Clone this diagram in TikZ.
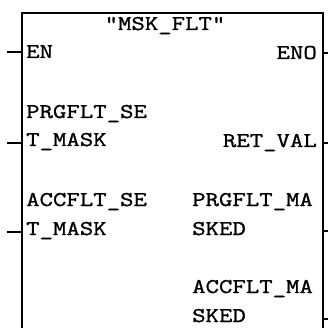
\documentclass[tikz,border=0pt]{standalone}
\usepackage{fontspec}
\newfontfamily\plcfont[FakeStretch=1.24,FakeBold=1.2]{Latin Modern Mono}
\begin{document}
\begin{tikzpicture}[x=1pt,y=-1pt,
  lbl/.style={inner sep=0pt,font=\plcfont\fontsize{21}{21}\selectfont},
  lft/.style={lbl,anchor=base west},
  rgt/.style={lbl,anchor=base east},
  wire/.style={line width=1.2pt,black}]
\useasboundingbox (0,0) rectangle (328,328);
% box outline (open at the bottom)
\coordinate (bl) at (22,328);
\coordinate (tl) at (22,13);
\coordinate (tr) at (323,13);
\coordinate (br) at (323,328);
\draw[wire] (bl) -- (tl) -- (tr) -- (br);
% title
\node[lbl,anchor=base] (title) at (165,30) {"MSK\_FLT"};
% left pins
\node[lft] (en) at (26,58) {EN};
\node[lft] (prg1) at (26,118) {PRGFLT\_SE};
\node[lft] (prg2) at (26,146) {T\_MASK};
\node[lft] (acc1) at (26,206) {ACCFLT\_SE};
\node[lft] (acc2) at (26,235) {T\_MASK};
% right pins
\node[rgt] (eno) at (317,59) {ENO};
\node[rgt] (ret) at (317,147) {RET\_VAL};
\node[lft] (pm1) at (192,206) {PRGFLT\_MA};
\node[lft] (pm2) at (192,235) {SKED};
\node[lft] (am1) at (192,293) {ACCFLT\_MA};
\node[lft] (am2) at (192,322) {SKED};
% pin stubs
\coordinate (enA) at (7,52);   \coordinate (enB) at (22,52);
\coordinate (prA) at (7,143);  \coordinate (prB) at (22,143);
\coordinate (acA) at (7,232);  \coordinate (acB) at (22,232);
\coordinate (enoA) at (323,53);  \coordinate (enoB) at (328,53);
\coordinate (retA) at (323,143); \coordinate (retB) at (328,143);
\coordinate (pmA) at (323,231);  \coordinate (pmB) at (328,231);
\coordinate (amA) at (323,319);  \coordinate (amB) at (328,319);
\draw[wire] (enA) -- (enB);
\draw[wire] (prA) -- (prB);
\draw[wire] (acA) -- (acB);
\draw[wire] (enoA) -- (enoB);
\draw[wire] (retA) -- (retB);
\draw[wire] (pmA) -- (pmB);
\draw[wire] (amA) -- (amB);
\end{tikzpicture}
\end{document}
